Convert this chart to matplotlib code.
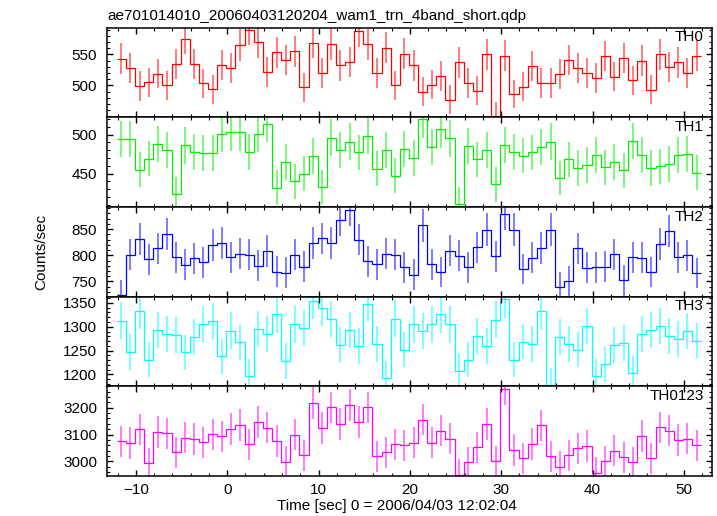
import numpy as np
import matplotlib.pyplot as plt
from matplotlib.ticker import MultipleLocator

plt.rcParams['font.family'] = ['Liberation Sans', 'DejaVu Sans']

# 1 s bins, start of first bin relative to 2006/04/03 12:02:04
t_start = -12.1
live_time = 0.9  # s per bin, used for the Poisson errors

th0 = [543, 528, 499, 505, 519, 500, 535, 575, 534, 503, 494, 533, 528, 565, 590, 570,
       522, 553, 541, 555, 497, 569, 520, 566, 532, 538, 587, 566, 520, 561, 500, 551,
       532, 490, 501, 515, 477, 537, 504, 491, 550, 451, 548, 486, 498, 531, 504, 504,
       518, 541, 528, 520, 512, 547, 514, 544, 508, 540, 493, 550, 530, 537, 520, 548]
th1 = [494, 494, 455, 469, 488, 480, 424, 486, 478, 476, 476, 501, 503, 503, 478, 501,
       514, 432, 465, 440, 450, 472, 433, 496, 480, 491, 477, 498, 456, 480, 447, 481,
       470, 520, 484, 507, 495, 411, 485, 468, 480, 436, 487, 478, 473, 477, 484, 491,
       444, 468, 457, 461, 474, 458, 465, 454, 492, 474, 457, 459, 462, 474, 475, 451]
th2 = [725, 801, 831, 792, 813, 840, 796, 782, 794, 787, 820, 823, 796, 803, 801, 780,
       808, 769, 767, 801, 778, 824, 832, 824, 867, 887, 830, 789, 783, 803, 801, 777,
       763, 857, 783, 768, 809, 799, 777, 815, 849, 798, 879, 849, 774, 795, 814, 849,
       739, 751, 813, 776, 777, 778, 802, 752, 796, 795, 768, 821, 846, 796, 800, 766]
th3 = [1313, 1247, 1333, 1231, 1294, 1284, 1282, 1246, 1279, 1305, 1311, 1238, 1292, 1267, 1196, 1296,
       1284, 1326, 1228, 1305, 1298, 1355, 1340, 1316, 1261, 1294, 1259, 1348, 1264, 1192, 1317, 1252,
       1305, 1291, 1305, 1326, 1305, 1208, 1231, 1280, 1259, 1315, 1358, 1231, 1269, 1264, 1332, 1178,
       1279, 1264, 1252, 1301, 1196, 1221, 1261, 1266, 1202, 1285, 1294, 1301, 1280, 1274, 1291, 1271]
th0123 = [3075, 3068, 3119, 2993, 3110, 3104, 3034, 3088, 3083, 3071, 3101, 3093, 3120, 3136, 3063, 3147,
          3126, 3076, 2999, 3100, 3022, 3219, 3124, 3201, 3139, 3211, 3147, 3201, 3019, 3034, 3063, 3059,
          3070, 3156, 3070, 3115, 3085, 2950, 2996, 3053, 3139, 3001, 3270, 3042, 3011, 3065, 3134, 3019,
          2980, 3022, 3048, 3057, 2957, 3001, 3039, 3016, 2997, 3094, 3012, 3127, 3115, 3080, 3084, 3059]

names = ['TH0', 'TH1', 'TH2', 'TH3', 'TH0123']
series = [th0, th1, th2, th3, th0123]
colors = ['#ff0000', '#00f000', '#0000ff', '#00ffff', '#ff00ff']
ylims = [(448.4, 592.9), (407, 522), (721, 892), (1175, 1363), (2945, 3280)]
yticks = [[500, 550], [450, 500], [750, 800, 850], [1200, 1250, 1300, 1350], [3000, 3100, 3200]]
yminor = [10, 10, 10, 10, 20]

title = 'ae701014010_20060403120204_wam1_trn_4band_short.qdp'

fig, axes = plt.subplots(5, 1, sharex=True, figsize=(7.17, 5.16), dpi=100)
fig.subplots_adjust(left=0.1488, right=0.9926, top=0.9463, bottom=0.0775, hspace=0)

for ax, name, rate, c, yl, yt, ym in zip(axes, names, series, colors, ylims, yticks, yminor):
    rate = np.array(rate, dtype=float)
    edges = t_start + np.arange(len(rate) + 1)
    centers = edges[:-1] + 0.5
    err = np.sqrt(rate / live_time)
    ax.errorbar(centers, rate, yerr=err, fmt='none', ecolor=c, elinewidth=1.2,
                alpha=0.6, capsize=0)
    ax.stairs(rate, edges, baseline=None, color=c, linewidth=0.9)
    ax.set_ylim(*yl)
    ax.set_yticks(yt)
    ax.yaxis.set_minor_locator(MultipleLocator(ym))
    ax.text(0.987, 0.97, name, transform=ax.transAxes, ha='right', va='top', fontsize=11)
    ax.tick_params(which='both', direction='in', top=True, right=True, labelsize=11, pad=7)
    ax.tick_params(which='major', length=4.3, width=1)
    ax.tick_params(which='minor', length=2.4, width=0.8)
    for s in ax.spines.values():
        s.set_linewidth(1.1)

axes[-1].set_xlim(-13.2, 53.05)
axes[-1].xaxis.set_major_locator(MultipleLocator(10))
axes[-1].xaxis.set_minor_locator(MultipleLocator(2))
axes[-1].tick_params(axis='x', pad=5)

fig.text(107 / 717, 1 - 20 / 516, title, ha='left', va='baseline', fontsize=11)
fig.text(41 / 717, 1 - 252 / 516, 'Counts/sec', rotation=90, ha='center', va='center', fontsize=11)
fig.text(397 / 717, 1 - 506 / 516, 'Time [sec] 0 = 2006/04/03 12:02:04',
         ha='center', va='center', fontsize=11)

fig.savefig('out.png', dpi=100)
